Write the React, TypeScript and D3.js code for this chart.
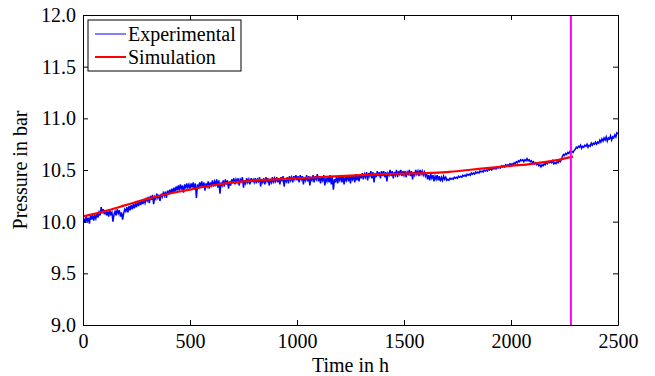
import React, { useRef, useEffect } from 'react';
import * as d3 from 'd3';

// experimental record: one pressure value (bar) every 5 h
const expStart = 0;
const expStep = 5;
const expPressure = [
  9.98, 10.03, 9.99, 10.05, 10.00, 10.04, 9.98, 10.06, 10.02, 10.07, 10.01, 10.06, 10.03, 10.08, 10.04, 10.09, 10.06, 10.14, 10.08, 10.12,
  10.07, 10.11, 10.06, 10.10, 10.05, 10.11, 10.07, 10.09, 10.00, 10.07, 10.10, 10.06, 10.12, 10.08, 10.11, 10.05, 10.09, 10.02, 10.08, 10.12,
  10.10, 10.14, 10.09, 10.15, 10.11, 10.16, 10.12, 10.17, 10.13, 10.18, 10.14, 10.19, 10.15, 10.20, 10.16, 10.21, 10.17, 10.22, 10.18, 10.22,
  10.20, 10.24, 10.18, 10.25, 10.21, 10.26, 10.17, 10.24, 10.22, 10.27, 10.23, 10.26, 10.20, 10.27, 10.24, 10.28, 10.25, 10.29, 10.23, 10.30,
  10.26, 10.31, 10.27, 10.32, 10.28, 10.33, 10.29, 10.34, 10.30, 10.35, 10.30, 10.36, 10.31, 10.35, 10.28, 10.36, 10.32, 10.37, 10.33, 10.36,
  10.32, 10.37, 10.33, 10.38, 10.31, 10.37, 10.23, 10.36, 10.32, 10.38, 10.34, 10.39, 10.33, 10.38, 10.30, 10.37, 10.34, 10.39, 10.32, 10.38,
  10.35, 10.40, 10.34, 10.39, 10.36, 10.41, 10.33, 10.40, 10.27, 10.38, 10.35, 10.40, 10.34, 10.41, 10.36, 10.40, 10.32, 10.39, 10.35, 10.41,
  10.37, 10.42, 10.36, 10.41, 10.38, 10.42, 10.35, 10.41, 10.39, 10.43, 10.33, 10.40, 10.37, 10.42, 10.38, 10.41, 10.36, 10.42, 10.39, 10.41,
  10.38, 10.42, 10.37, 10.41, 10.39, 10.43, 10.34, 10.41, 10.38, 10.42, 10.36, 10.43, 10.39, 10.42, 10.35, 10.41, 10.38, 10.43, 10.37, 10.42,
  10.39, 10.43, 10.38, 10.42, 10.36, 10.43, 10.40, 10.44, 10.34, 10.42, 10.39, 10.43, 10.37, 10.44, 10.40, 10.43, 10.38, 10.44, 10.41, 10.45,
  10.40, 10.44, 10.38, 10.45, 10.41, 10.44, 10.36, 10.43, 10.40, 10.45, 10.39, 10.44, 10.35, 10.42, 10.40, 10.45, 10.38, 10.44, 10.41, 10.46,
  10.39, 10.44, 10.37, 10.43, 10.40, 10.45, 10.35, 10.42, 10.39, 10.44, 10.38, 10.45, 10.36, 10.43, 10.31, 10.41, 10.38, 10.44, 10.37, 10.43,
  10.40, 10.45, 10.38, 10.44, 10.36, 10.43, 10.40, 10.45, 10.39, 10.44, 10.37, 10.45, 10.41, 10.44, 10.38, 10.46, 10.40, 10.45, 10.39, 10.46,
  10.42, 10.47, 10.41, 10.46, 10.43, 10.48, 10.40, 10.47, 10.44, 10.49, 10.42, 10.48, 10.38, 10.47, 10.43, 10.49, 10.44, 10.48, 10.42, 10.49,
  10.44, 10.49, 10.43, 10.48, 10.39, 10.47, 10.45, 10.50, 10.44, 10.49, 10.42, 10.48, 10.45, 10.50, 10.43, 10.49, 10.46, 10.50, 10.44, 10.49,
  10.45, 10.49, 10.43, 10.48, 10.46, 10.50, 10.44, 10.49, 10.41, 10.48, 10.45, 10.50, 10.46, 10.49, 10.44, 10.50, 10.46, 10.49, 10.45, 10.48,
  10.44, 10.47, 10.41, 10.45, 10.40, 10.46, 10.42, 10.45, 10.39, 10.44, 10.41, 10.45, 10.40, 10.44, 10.39, 10.43, 10.40, 10.44, 10.41, 10.43,
  10.40, 10.41, 10.40, 10.42, 10.41, 10.42, 10.41, 10.43, 10.42, 10.43, 10.42, 10.44, 10.43, 10.44, 10.43, 10.45, 10.44, 10.45, 10.44, 10.46,
  10.45, 10.46, 10.45, 10.47, 10.46, 10.47, 10.46, 10.48, 10.47, 10.48, 10.47, 10.49, 10.48, 10.49, 10.48, 10.50, 10.49, 10.50, 10.49, 10.51,
  10.50, 10.51, 10.50, 10.52, 10.51, 10.52, 10.51, 10.53, 10.52, 10.53, 10.52, 10.54, 10.53, 10.54, 10.53, 10.55, 10.54, 10.55, 10.54, 10.56,
  10.55, 10.56, 10.55, 10.57, 10.56, 10.58, 10.57, 10.59, 10.58, 10.60, 10.59, 10.60, 10.58, 10.60, 10.59, 10.61, 10.59, 10.60, 10.58, 10.59,
  10.57, 10.58, 10.56, 10.57, 10.55, 10.56, 10.54, 10.55, 10.53, 10.55, 10.54, 10.56, 10.55, 10.57, 10.56, 10.58, 10.57, 10.58, 10.57, 10.59,
  10.56, 10.57, 10.56, 10.58, 10.57, 10.59, 10.58, 10.60, 10.63, 10.65, 10.64, 10.66, 10.65, 10.67, 10.66, 10.68, 10.67, 10.68, 10.67, 10.69,
  10.70, 10.72, 10.71, 10.73, 10.72, 10.74, 10.71, 10.73, 10.72, 10.74, 10.73, 10.75, 10.72, 10.74, 10.73, 10.76, 10.74, 10.76, 10.75, 10.77,
  10.75, 10.77, 10.76, 10.79, 10.77, 10.80, 10.78, 10.81, 10.79, 10.82, 10.78, 10.81, 10.80, 10.83, 10.79, 10.82, 10.81, 10.84, 10.82, 10.86,
  10.85,
];

const simTime = [0, 100, 200, 300, 400, 500, 600, 700, 800, 900, 1000, 1100, 1200,
  1300, 1400, 1500, 1600, 1700, 1800, 1900, 2000, 2100, 2200, 2290];
const simPressure = [10.05, 10.10, 10.16, 10.22, 10.27, 10.31, 10.35, 10.38, 10.40, 10.41,
  10.42, 10.43, 10.44, 10.45, 10.46, 10.465, 10.47, 10.48, 10.50, 10.52, 10.54, 10.56,
  10.59, 10.63];

const markerTime = 2280;

const xTicks = [0, 500, 1000, 1500, 2000, 2500];
const yTicks = [9.0, 9.5, 10.0, 10.5, 11.0, 11.5, 12.0];

export default function App() {
  const svgRef = useRef<SVGSVGElement>(null);

  useEffect(() => {
    const width = 655;
    const height = 376;
    const marginLeft = 83;
    const marginRight = 37;
    const marginTop = 15;
    const marginBottom = 51;
    const font = '"Liberation Serif", "Times New Roman", Times, "DejaVu Serif", serif';

    const x = d3.scaleLinear().domain([0, 2500]).range([marginLeft, width - marginRight]);
    const y = d3.scaleLinear().domain([9, 12]).range([height - marginBottom, marginTop]);

    const svg = d3.select(svgRef.current);
    svg.selectAll('*').remove();
    svg.attr('width', width).attr('height', height).attr('viewBox', [0, 0, width, height])
      .style('font-family', font);

    svg.append('rect').attr('width', width).attr('height', height).attr('fill', 'white');

    svg.append('defs').append('clipPath').attr('id', 'plot-clip')
      .append('rect')
      .attr('x', marginLeft).attr('y', marginTop)
      .attr('width', x(2500) - marginLeft).attr('height', y(9) - marginTop);

    const expData = expPressure.map((p, i) => [expStart + i * expStep, p] as [number, number]);
    const simData = simTime.map((t, i) => [t, simPressure[i]] as [number, number]);

    const line = d3.line<[number, number]>().x(d => x(d[0])).y(d => y(d[1]));

    const plot = svg.append('g').attr('clip-path', 'url(#plot-clip)');

    plot.append('path')
      .datum(expData)
      .attr('fill', 'none')
      .attr('stroke', '#0000ff')
      .attr('stroke-width', 1.5)
      .attr('d', line);

    plot.append('path')
      .datum(simData)
      .attr('fill', 'none')
      .attr('stroke', '#ff0000')
      .attr('stroke-width', 2.2)
      .attr('d', line.curve(d3.curveMonotoneX));

    plot.append('line')
      .attr('x1', x(markerTime)).attr('x2', x(markerTime))
      .attr('y1', y(12)).attr('y2', y(9))
      .attr('stroke', '#ff00ff')
      .attr('stroke-width', 2);

    // axes, ticks pointing inward
    const styleAxis = (g: d3.Selection<SVGGElement, unknown, null, undefined>) => {
      g.selectAll('.domain').attr('stroke', '#000').attr('stroke-width', 1);
      g.selectAll('.tick line').attr('stroke', '#000');
      g.selectAll('text').style('font-family', font).attr('font-size', 20).attr('fill', '#000');
    };

    svg.append('g')
      .attr('transform', `translate(0,${y(9)})`)
      .call(d3.axisBottom(x).tickValues(xTicks).tickSizeInner(-5).tickSizeOuter(0).tickPadding(9).tickFormat(d3.format('d')))
      .call(styleAxis);

    svg.append('g')
      .attr('transform', `translate(0,${y(12)})`)
      .call(d3.axisTop(x).tickValues(xTicks).tickSizeInner(-5).tickSizeOuter(0).tickFormat(() => ''))
      .call(styleAxis);

    svg.append('g')
      .attr('transform', `translate(${marginLeft},0)`)
      .call(d3.axisLeft(y).tickValues(yTicks).tickSizeInner(-5).tickSizeOuter(0).tickPadding(7).tickFormat(d3.format('.1f')))
      .call(styleAxis);

    svg.append('g')
      .attr('transform', `translate(${x(2500)},0)`)
      .call(d3.axisRight(y).tickValues(yTicks).tickSizeInner(-5).tickSizeOuter(0).tickFormat(() => ''))
      .call(styleAxis);

    svg.append('text')
      .attr('x', (x(0) + x(2500)) / 2)
      .attr('y', 372)
      .attr('text-anchor', 'middle')
      .style('font-family', font)
      .attr('font-size', 20)
      .text('Time in h');

    svg.append('text')
      .attr('transform', `translate(27,${(y(9) + y(12)) / 2}) rotate(-90)`)
      .attr('text-anchor', 'middle')
      .style('font-family', font)
      .attr('font-size', 20)
      .text('Pressure in bar');

    // legend
    const legend = svg.append('g').attr('transform', `translate(${marginLeft + 5},${marginTop + 5})`);
    legend.append('rect')
      .attr('width', 153).attr('height', 51)
      .attr('fill', 'white').attr('stroke', '#000').attr('stroke-width', 1);
    const items = [
      { label: 'Experimental', color: '#0000ff', w: 1 },
      { label: 'Simulation', color: '#ff0000', w: 2 },
    ];
    items.forEach((it, i) => {
      const ly = 14 + i * 23;
      legend.append('line')
        .attr('x1', 7).attr('x2', 38).attr('y1', ly).attr('y2', ly)
        .attr('stroke', it.color).attr('stroke-width', it.w);
      legend.append('text')
        .attr('x', 40).attr('y', ly + 7)
        .style('font-family', font).attr('font-size', 20)
        .text(it.label);
    });
  }, []);

  return (
    <div style={{ position: 'absolute', left: 0, top: 0, width: 655, height: 376 }}>
      <svg ref={svgRef}></svg>
    </div>
  );
}
